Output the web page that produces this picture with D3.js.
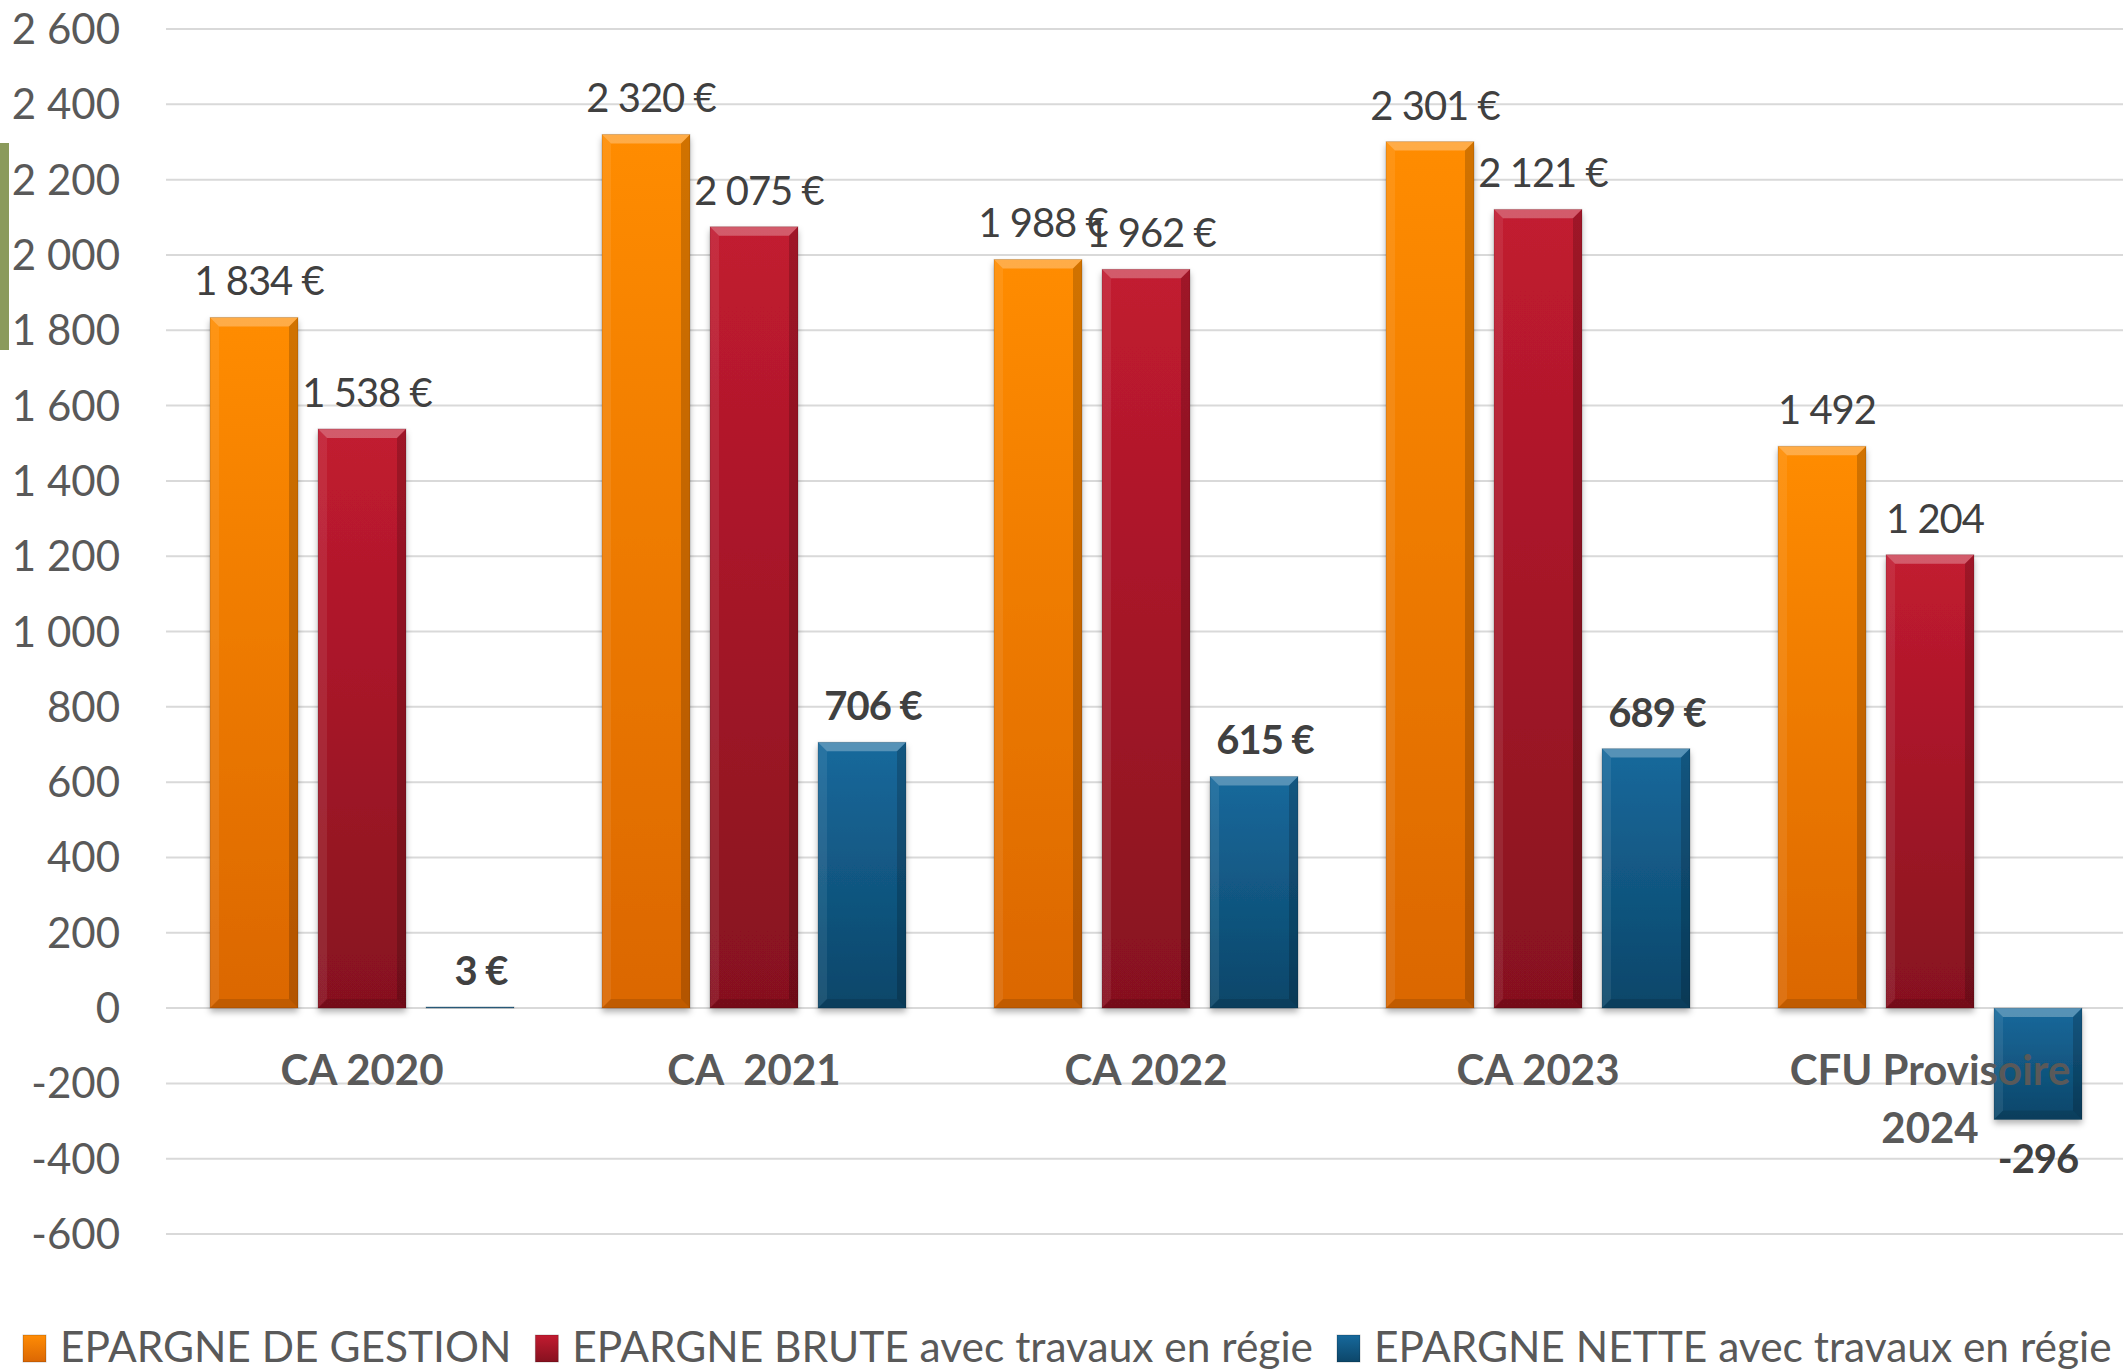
<!DOCTYPE html>
<html>
<head>
<meta charset="utf-8">
<script src="https://cdn.jsdelivr.net/npm/d3@7"></script>
<style>
  html, body { margin: 0; padding: 0; background: #fff; }
  svg { display: block; font-family: Lato, "Open Sans", sans-serif; }
</style>
</head>
<body>
<div id="chart"></div>
<script>
// Data
const categories = ["CA 2020", "CA  2021", "CA 2022", "CA 2023", "CFU Provisoire 2024"];
const seriesNames = ["EPARGNE DE GESTION", "EPARGNE BRUTE avec travaux en régie", "EPARGNE NETTE avec travaux en régie"];
const gestion = [1834, 2320, 1988, 2301, 1492];
const brute = [1538, 2075, 1962, 2121, 1204];
const nette = [3, 706, 615, 689, -296];
const euroSuffix = [true, true, true, true, false];
const yTicks = [-600, -400, -200, 0, 200, 400, 600, 800, 1000, 1200, 1400, 1600, 1800, 2000, 2200, 2400, 2600];

const W = 2123, H = 1371;
const margin = { top: 29, right: -3, bottom: 137, left: 166 };

// colours: [top, bottom] of each bar gradient
const palette = [
    ["#ff8c05", "#db6704"],
    ["#c21b30", "#86111f"],
    ["#17699c", "#0c4669"]
];

const locale = d3.formatLocale({ decimal: ",", thousands: " ", grouping: [3], currency: ["", " €"], minus: "-" });
const fmt = locale.format(",d");

const svg = d3.select("#chart").append("svg")
    .attr("width", W)
    .attr("height", H);

const defs = svg.append("defs");
palette.forEach((c, i) => {
    const g = defs.append("linearGradient")
        .attr("id", "grad" + i)
        .attr("x1", 0).attr("y1", 0).attr("x2", 0).attr("y2", 1);
    g.append("stop").attr("offset", "0%").attr("stop-color", c[0]);
    g.append("stop").attr("offset", "100%").attr("stop-color", c[1]);
});
const shadow = defs.append("filter").attr("id", "shadow")
    .attr("x", "-20%").attr("y", "-20%").attr("width", "140%").attr("height", "140%");
shadow.append("feDropShadow")
    .attr("dx", 0).attr("dy", 4).attr("stdDeviation", 3)
    .attr("flood-color", "#000").attr("flood-opacity", 0.3);

// stray green marker on the left edge
svg.append("rect")
    .attr("x", 0).attr("y", 143).attr("width", 9).attr("height", 207)
    .attr("fill", "#8a9a5b");

const y = d3.scaleLinear()
    .domain([-600, 2600])
    .range([1234, 29]);

const x0 = d3.scaleBand()
    .domain(categories)
    .range([margin.left, W + 3])
    .padding(0);

const x1 = d3.scaleBand()
    .domain(d3.range(3))
    .range([44, 348])
    .paddingInner(20 / 108)
    .paddingOuter(0);

// gridlines
svg.append("g").attr("class", "grid")
    .selectAll("line")
    .data(yTicks)
    .enter()
    .append("line")
    .attr("x1", margin.left)
    .attr("x2", W)
    .attr("y1", d => y(d))
    .attr("y2", d => y(d))
    .style("stroke", "#d9d9d9")
    .style("stroke-width", "2px");

// y tick labels
svg.append("g").attr("class", "y-labels")
    .selectAll("text")
    .data(yTicks)
    .enter()
    .append("text")
    .attr("x", 120)
    .attr("y", d => y(d) + 15)
    .style("text-anchor", "end")
    .style("font-size", "42px")
    .style("fill", "#595959")
    .text(d => fmt(d));

// bar data
const bars = [];
categories.forEach((cat, i) => {
    [gestion, brute, nette].forEach((s, k) => {
        bars.push({ cat: cat, i: i, k: k, value: s[i] });
    });
});

const barGroup = svg.append("g").attr("class", "bars");

const bar = barGroup.selectAll("g.bar")
    .data(bars)
    .enter()
    .append("g")
    .attr("class", "bar")
    .attr("transform", d => `translate(${x0(d.cat) + x1(d.k)},0)`);

const bw = x1.bandwidth();

bar.append("rect")
    .attr("x", 0)
    .attr("y", d => Math.min(y(d.value), y(0)))
    .attr("width", bw)
    .attr("height", d => Math.abs(y(d.value) - y(0)))
    .attr("fill", d => `url(#grad${d.k})`)
    .attr("filter", "url(#shadow)");

// bevel edges (light top / dark right & bottom)
function bevel(d) {
    const top = Math.min(y(d.value), y(0));
    const h = Math.abs(y(d.value) - y(0));
    const b = Math.min(9, h / 2);
    return { top, h, b };
}
bar.append("path")
    .attr("d", d => {
        const { top, b } = bevel(d);
        return `M0,${top}L${bw},${top}L${bw - b},${top + b}L${b},${top + b}Z`;
    })
    .attr("fill", "#fff").attr("opacity", 0.28);
bar.append("path")
    .attr("d", d => {
        const { top, h, b } = bevel(d);
        return `M0,${top}L${b},${top + b}L${b},${top + h - b}L0,${top + h}Z`;
    })
    .attr("fill", "#fff").attr("opacity", 0.08);
bar.append("path")
    .attr("d", d => {
        const { top, h, b } = bevel(d);
        return `M${bw},${top}L${bw},${top + h}L${bw - b},${top + h - b}L${bw - b},${top + b}Z`;
    })
    .attr("fill", "#000").attr("opacity", 0.18);
bar.append("path")
    .attr("d", d => {
        const { top, h, b } = bevel(d);
        return `M0,${top + h}L${bw},${top + h}L${bw - b},${top + h - b}L${b},${top + h - b}Z`;
    })
    .attr("fill", "#000").attr("opacity", 0.12);
bar.append("rect")
    .attr("x", 0)
    .attr("y", d => Math.min(y(d.value), y(0)))
    .attr("width", bw)
    .attr("height", d => Math.abs(y(d.value) - y(0)))
    .attr("fill", "none")
    .style("stroke", "#000")
    .style("stroke-opacity", 0.15)
    .style("stroke-width", "1px");

// category labels (drawn over the bars, wrapped when too wide)
const catLabels = svg.append("g").attr("class", "x-labels")
    .selectAll("text")
    .data(categories)
    .enter()
    .append("text")
    .attr("x", d => x0(d) + x0.bandwidth() / 2)
    .attr("y", 1085)
    .style("text-anchor", "middle")
    .style("font-size", "42px")
    .style("font-weight", "bold")
    .style("fill", "#595959")
    .style("white-space", "pre")
    .text(d => d);

catLabels.each(function(d) {
    const t = d3.select(this);
    if (this.getComputedTextLength() > x0.bandwidth() - 20) {
        const words = d.split(" ");
        const last = words.pop();
        t.text(null);
        t.append("tspan").attr("x", t.attr("x")).attr("dy", 0).text(words.join(" "));
        t.append("tspan").attr("x", t.attr("x")).attr("dy", 58).text(last);
    }
});

// value labels
svg.append("g").attr("class", "value-labels")
    .selectAll("text")
    .data(bars)
    .enter()
    .append("text")
    .attr("x", d => x0(d.cat) + x1(d.k) + bw / 2 + (d.value < 0 ? 0 : d.k === 2 ? 11 : 5))
    .attr("y", d => d.value < 0 ? y(d.value) + 53 : y(d.value) - (d.k === 2 ? 22 : 22))
    .style("text-anchor", "middle")
    .style("font-size", "40px")
    .style("letter-spacing", "-1px")
    .style("font-weight", d => d.k === 2 ? "bold" : "normal")
    .style("fill", "#404040")
    .text(d => fmt(d.value) + (euroSuffix[d.i] && d.value >= 0 ? " €" : ""));

// legend
const legend = svg.append("g").attr("class", "legend");
const legendItems = legend.selectAll("g")
    .data(seriesNames)
    .enter()
    .append("g");

legendItems.append("rect")
    .attr("width", 23)
    .attr("height", 27)
    .attr("y", 1335)
    .attr("fill", (d, i) => `url(#grad${i})`)
    .style("stroke", "#000")
    .style("stroke-opacity", 0.2);

const legendText = legendItems.append("text")
    .attr("y", 1362)
    .style("font-size", "40px")
    .style("fill", "#595959")
    .text(d => d);

// fit the legend into the same width as in the reference
const gapIcon = 14, gapItem = 24, startX = 23, endX = 2112;
let widths = [];
legendText.each(function() { widths.push(this.getComputedTextLength()); });
const fs = Math.min(44, 40 * ((endX - startX - 3 * (23 + gapIcon) - 2 * gapItem) / d3.sum(widths)));
legendText.style("font-size", fs + "px");
widths = [];
legendText.each(function() { widths.push(this.getComputedTextLength()); });
let cx = startX;
legendItems.each(function(d, i) {
    const g = d3.select(this);
    g.select("rect").attr("x", cx);
    g.select("text").attr("x", cx + 23 + gapIcon);
    cx += 23 + gapIcon + widths[i] + gapItem;
});
</script>
</body>
</html>
